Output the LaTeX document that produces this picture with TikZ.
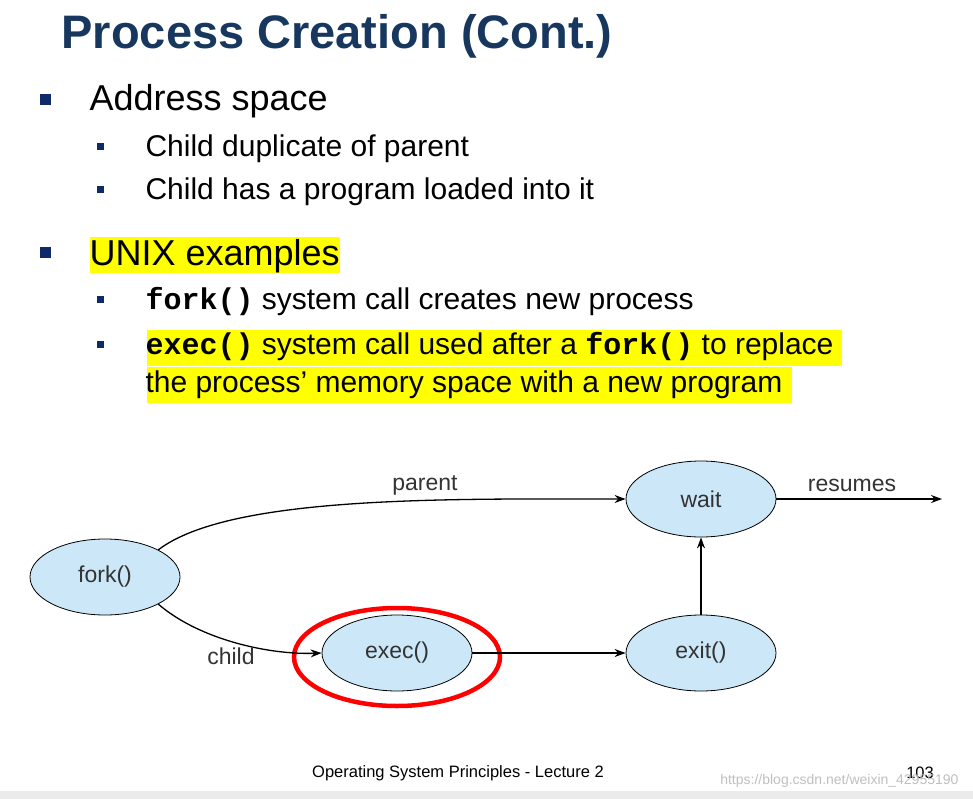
\documentclass[tikz,border=0pt]{standalone}
\usepackage{fontspec}
\setmainfont{Liberation Sans}
\setmonofont{Liberation Mono}
\usetikzlibrary{arrows.meta,shapes.geometric}
\definecolor{ttl}{HTML}{17375E}
\definecolor{bul}{HTML}{0F2A6B}
\definecolor{ell}{HTML}{CCE8F8}
\definecolor{hl}{HTML}{FFFF00}
\begin{document}
\begin{tikzpicture}[x=1pt,y=-1pt,
  proc/.style={ellipse,draw=black,line width=0.8pt,fill=ell,minimum width=150pt,minimum height=76pt,font=\fontsize{23}{27}\selectfont,text=black!80},
  arr/.style={-{Stealth[length=11pt,width=8pt]},line width=1.3pt},
  lbl/.style={font=\fontsize{23}{27}\selectfont,text=black!80},
  b1/.style={fill=bul,minimum size=11pt,inner sep=0pt},
  b2/.style={fill=bul,minimum size=7pt,inner sep=0pt}]
\useasboundingbox (0,0) rectangle (973,799);
\fill[black!8] (0,791) rectangle (973,799);
\node[anchor=west,text=ttl,font=\fontsize{47}{52}\selectfont\bfseries] (title) at (58,36) {Process Creation (Cont.)};
% bullets
\node[b1] (ba) at (45,100) {};
\node[anchor=west,font=\fontsize{36}{40}\selectfont] (ta) at (86,101) {Address space};
\node[b2] (bb) at (100,147) {};
\node[anchor=west,font=\fontsize{30}{34}\selectfont] (tb) at (142,149) {Child duplicate of parent};
\node[b2] (bc) at (100,190) {};
\node[anchor=west,font=\fontsize{30}{34}\selectfont] (tc) at (142,192) {Child has a program loaded into it};
\fill[hl] (90,237) rectangle (340,273);
\node[b1] (bd) at (45,253) {};
\node[anchor=west,font=\fontsize{36}{40}\selectfont] (td) at (86,256) {UNIX examples};
\node[b2] (be) at (100,299) {};
\node[anchor=west,font=\fontsize{30}{34}\selectfont] (te) at (142,302) {\texttt{\bfseries fork()} system call creates new process};
\fill[hl] (147,330) rectangle (842,366);
\fill[hl] (147,367) rectangle (792,403);
\node[b2] (bf) at (100,344) {};
\node[anchor=west,font=\fontsize{30}{34}\selectfont] (tf) at (142,347) {\texttt{\bfseries exec()} system call used after a \texttt{\bfseries fork()} to replace};
\node[anchor=west,font=\fontsize{30}{34}\selectfont] (tg) at (142,385) {the process’ memory space with a new program};
% diagram
\node[proc] (fork) at (105,577) {fork()};
\node[proc] (exec) at (397,653) {exec()};
\node[proc] (exit) at (701,653) {exit()};
\node[proc] (wait) at (701,499) {wait};
\draw[red,line width=4.5pt] (397,657) ellipse (103pt and 49pt);
\coordinate (res) at (942,499);
\draw[arr] (fork.north east) .. controls (230,495) and (450,499) .. (wait.west);
\draw[arr] (fork.south east) .. controls (200,640) and (270,655) .. (exec.west);
\draw[arr] (exec.east) -- (exit.west);
\draw[arr] (exit.north) -- (wait.south);
\draw[arr] (wait.east) -- (res);
\node[lbl] (lp) at (425,485) {parent};
\node[lbl] (lc) at (231,656) {child};
\node[lbl] (lr) at (852,485) {resumes};
\node[font=\fontsize{16.5}{20}\selectfont] (foot) at (458,773) {Operating System Principles - Lecture 2};
\node[font=\fontsize{16.5}{20}\selectfont] (pg) at (920,773) {103};
\node[font=\fontsize{14}{18}\selectfont,text=black!25,anchor=east] (wm) at (962,781) {https://blog.csdn.net/weixin\_42955190};
\end{tikzpicture}
\end{document}
